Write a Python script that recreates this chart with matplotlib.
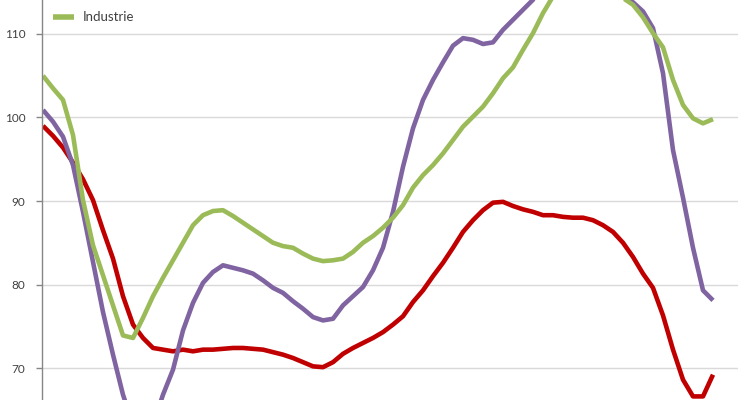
import numpy as np
import matplotlib.pyplot as plt

plt.rcParams['font.family'] = ['Lato', 'DejaVu Sans']

# ==========================================
# 数据（按图读取，68 个周期）
# ==========================================
industrie = [105.0, 103.5, 102.1, 97.9, 90.1, 84.7, 81.1, 77.5, 73.9, 73.6,
             76.0, 78.6, 80.8, 82.9, 85.0, 87.1, 88.3, 88.8, 88.9, 88.2,
             87.4, 86.6, 85.8, 85.0, 84.6, 84.4, 83.7, 83.1, 82.8, 82.9,
             83.1, 83.9, 85.0, 85.8, 86.8, 88.0, 89.5, 91.6, 93.1, 94.3,
             95.7, 97.3, 98.9, 100.1, 101.3, 102.9, 104.7, 106.0, 108.1, 110.1,
             112.5, 114.5, 116.0, 117.0, 117.3, 117.0, 116.2, 115.0, 114.3, 113.5,
             112.0, 110.1, 108.4, 104.5, 101.5, 99.9, 99.3, 99.8]

paars = [100.9, 99.5, 97.7, 94.3, 88.7, 82.7, 76.7, 71.6, 66.8, 63.2,
         61.4, 63.2, 66.8, 69.8, 74.5, 77.8, 80.2, 81.5, 82.3, 82.0,
         81.7, 81.3, 80.5, 79.6, 79.0, 78.0, 77.1, 76.1, 75.7, 75.9,
         77.5, 78.6, 79.7, 81.7, 84.4, 88.7, 94.1, 98.7, 102.1, 104.5,
         106.6, 108.6, 109.5, 109.3, 108.8, 109.0, 110.5, 111.7, 112.9, 114.1,
         115.5, 117.0, 118.0, 118.6, 118.8, 118.5, 117.5, 116.0, 114.5, 113.8,
         112.7, 110.7, 105.3, 96.1, 90.4, 84.4, 79.3, 78.1]

rood = [99.0, 97.8, 96.4, 94.6, 92.6, 90.1, 86.5, 83.1, 78.6, 75.2,
        73.6, 72.4, 72.2, 72.0, 72.2, 72.0, 72.2, 72.2, 72.3, 72.4,
        72.4, 72.3, 72.2, 71.9, 71.6, 71.2, 70.7, 70.2, 70.1, 70.7,
        71.7, 72.4, 73.0, 73.6, 74.3, 75.2, 76.2, 77.9, 79.3, 81.0,
        82.6, 84.4, 86.3, 87.7, 88.9, 89.8, 89.9, 89.4, 89.0, 88.7,
        88.3, 88.3, 88.1, 88.0, 88.0, 87.7, 87.1, 86.3, 85.0, 83.3,
        81.3, 79.6, 76.3, 72.2, 68.6, 66.6, 66.6, 69.2]

yticks = [70, 80, 90, 100, 110]

x = np.arange(len(industrie))

# ==========================================
# 绘图
# ==========================================
fig = plt.figure(figsize=(7.5, 4), dpi=100)
ax = fig.add_axes([42/750, 0, 696/750, 1])

ax.plot(x, rood, color='#C00000', lw=3.3, solid_capstyle='butt')
ax.plot(x, paars, color='#8064A2', lw=3.3, solid_capstyle='butt')
ax.plot(x, industrie, color='#9BBB59', lw=3.3, solid_capstyle='butt', label='Industrie')

ax.set_xlim(-0.1, 69.5)
ax.set_ylim(66.17, 114.07)
ax.set_yticks(yticks)
ax.set_xticks([])
ax.grid(axis='y', color='#D9D9D9', lw=1)
ax.set_axisbelow(True)

for s in ['top', 'right', 'bottom']:
    ax.spines[s].set_visible(False)
ax.spines['left'].set_color('#868686')
ax.spines['left'].set_linewidth(1)
ax.tick_params(axis='y', length=4, width=1, color='#868686', pad=8,
               labelsize=8.5, labelcolor='#404040')

ax.legend(loc='upper left', bbox_to_anchor=(0.016, 0.972), frameon=False,
          borderpad=0, borderaxespad=0, handlelength=1.6, handletextpad=0.65,
          prop={'size': 9.5})
leg = ax.get_legend()
for t in leg.get_texts():
    t.set_color('#404040')
for l in leg.get_lines():
    l.set_linewidth(4)

fig.savefig('out.png', dpi=100)
